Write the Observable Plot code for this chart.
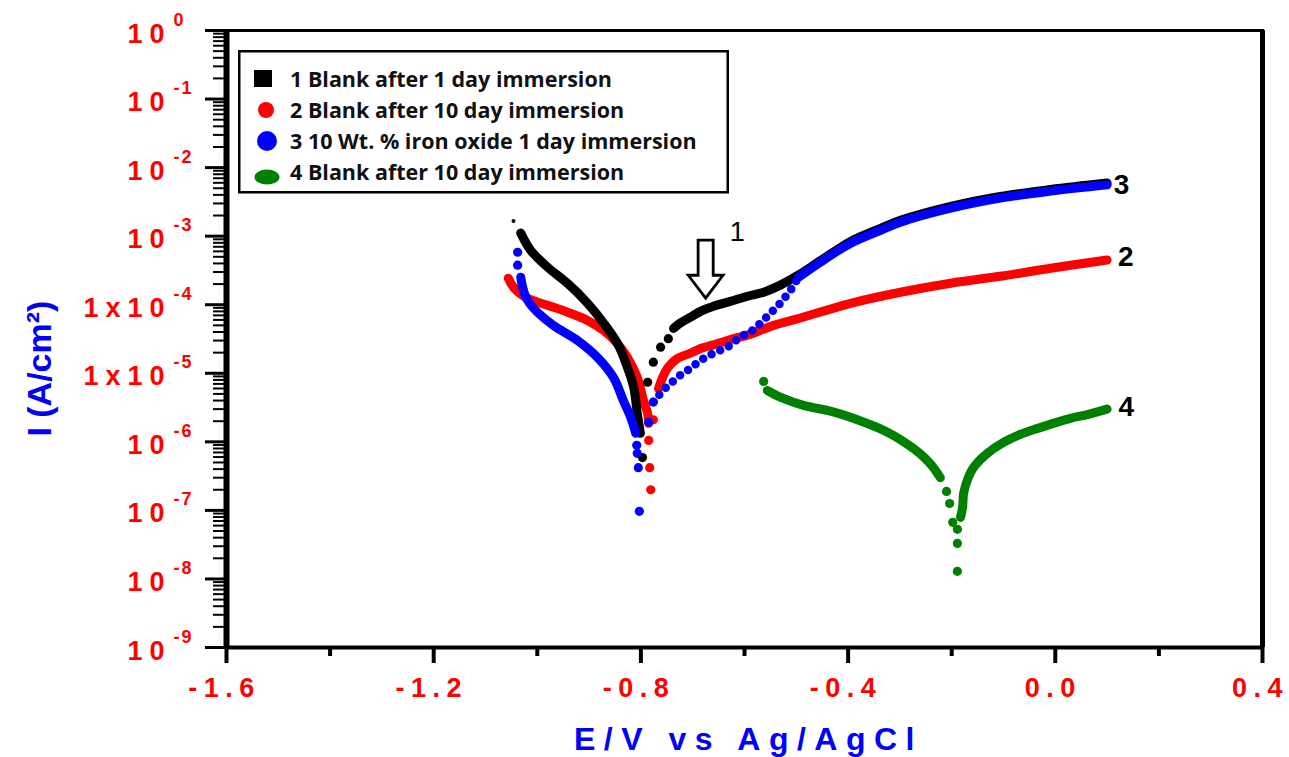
<!DOCTYPE html>
<html><head><meta charset="utf-8">
<script src="https://cdn.jsdelivr.net/npm/d3@7"></script>
<script src="https://cdn.jsdelivr.net/npm/@observablehq/plot@0.6"></script>
<style>
html,body{margin:0;padding:0;background:#fff;}
#wrap{position:relative;width:1289px;height:757px;overflow:hidden;}
#wrap > svg{position:absolute;left:0;top:0;}
</style></head><body><div id="wrap"></div>
<script>
// ---------- axis ticks & labels ----------
const xTicksMajor = [-1.6, -1.2, -0.8, -0.4, 0.0, 0.4];
const xTickLabels = ["-1.6", "-1.2", "-0.8", "-0.4", "0.0", "0.4"];
const xTicksMinor = [-1.4, -1.0, -0.6, -0.2, 0.2];
const yTicksMajor = [1, 1e-1, 1e-2, 1e-3, 1e-4, 1e-5, 1e-6, 1e-7, 1e-8, 1e-9];
const yTickBase = ["10", "10", "10", "10", "1x10", "1x10", "10", "10", "10", "10"];
const yTickExp = ["0", "-1", "-2", "-3", "-4", "-5", "-6", "-7", "-8", "-9"];
const yTicksMinor = [];
for (let d = -9; d < 0; d++) for (let m = 2; m <= 9; m++) yTicksMinor.push(m * Math.pow(10, d));

const xTitle = "E/V vs Ag/AgCl";
const yTitle = "I (A/cm²)";
const yTitleAt = [1.17e-5];

// ---------- series ----------
const seriesIds = ["1", "2", "3", "4"];
const seriesNames = ["1 Blank after 1 day immersion", "2 Blank after 10 day immersion",
  "3 10 Wt. % iron oxide 1 day immersion", "4 Blank after 10 day immersion"];
const seriesColors = ["#000000", "#ff0000", "#0000ff", "#008000"];

// Series 1 (black)
const s1StartE = [-1.046];
const s1StartI = [1.66e-3];
const s1CathE = [-1.032, -1.013, -0.980, -0.942, -0.903, -0.872, -0.845, -0.826, -0.814, -0.807, -0.801];
const s1CathI = [1.11e-3, 6.25e-4, 3.52e-4, 2.06e-4, 1.05e-4, 5.4e-5, 2.7e-5, 1.22e-5, 6.3e-6, 2.6e-6, 1.33e-6];
const s1TipE = [-0.803, -0.797, -0.787, -0.776, -0.762, -0.747];
const s1TipI = [1.6e-6, 5.9e-7, 7.4e-6, 1.45e-5, 2.4e-5, 3.2e-5];
const s1AnE = [-0.737, -0.724, -0.704, -0.685, -0.660, -0.627, -0.594, -0.563, -0.531, -0.498, -0.453, -0.395, -0.337, -0.299, -0.202, -0.106, -0.009, 0.1];
const s1AnI = [4.5e-5, 5.4e-5, 6.6e-5, 8.0e-5, 9.5e-5, 1.12e-4, 1.33e-4, 1.52e-4, 1.93e-4, 2.65e-4, 4.4e-4, 8.4e-4, 1.3e-3, 1.7e-3, 2.72e-3, 3.8e-3, 4.8e-3, 5.95e-3];

// Series 2 (red)
const s2CathE = [-1.056, -1.046, -1.019, -0.980, -0.942, -0.903, -0.872, -0.845, -0.826, -0.807, -0.795, -0.787, -0.785];
const s2CathI = [2.44e-4, 1.80e-4, 1.24e-4, 9.8e-5, 7.8e-5, 5.9e-5, 4.2e-5, 2.7e-5, 1.71e-5, 8.7e-6, 4.0e-6, 2.6e-6, 1.86e-6];
const s2TipE = [-0.776, -0.785, -0.783, -0.781];
const s2TipI = [2.1e-6, 1.05e-6, 4.2e-7, 2.0e-7];
const s2AnE = [-0.766, -0.758, -0.749, -0.729, -0.704, -0.685, -0.660, -0.621, -0.594, -0.544, -0.492, -0.395, -0.299, -0.202, -0.106, -0.009, 0.1];
const s2AnI = [6.0e-6, 8.7e-6, 1.18e-5, 1.66e-5, 1.96e-5, 2.3e-5, 2.6e-5, 3.2e-5, 3.6e-5, 5.0e-5, 6.4e-5, 1.05e-4, 1.52e-4, 2.06e-4, 2.6e-4, 3.4e-4, 4.5e-4];

// Series 3 (blue)
const s3StartE = [-1.038, -1.038];
const s3StartI = [5.83e-4, 3.78e-4];
const s3CathE = [-1.032, -1.029, -1.024, -1.015, -1.000, -0.969, -0.922, -0.884, -0.853, -0.834, -0.820, -0.810];
const s3CathI = [2.52e-4, 1.9e-4, 1.4e-4, 1.05e-4, 7.8e-5, 5.0e-5, 3.0e-5, 1.71e-5, 8.7e-6, 4.0e-6, 2.3e-6, 1.33e-6];
const s3TipE = [-0.808, -0.807, -0.805, -0.803, -0.785, -0.776];
const s3TipI = [8.9e-7, 6.8e-7, 4.2e-7, 9.7e-8, 1.93e-6, 3.8e-6];
const s3DotE = [-0.776, -0.758, -0.743, -0.724, -0.704, -0.685, -0.660, -0.633, -0.608, -0.588, -0.569, -0.550, -0.531, -0.511, -0.496];
const s3DotI = [3.8e-6, 5.6e-6, 7.1e-6, 9.4e-6, 1.18e-5, 1.55e-5, 1.96e-5, 2.4e-5, 3.4e-5, 4.0e-5, 5.4e-5, 7.5e-5, 1.05e-4, 1.63e-4, 2.5e-4];
const s3AnE = [-0.496, -0.453, -0.395, -0.337, -0.299, -0.202, -0.106, -0.009, 0.1];
const s3AnI = [2.5e-4, 4.2e-4, 7.9e-4, 1.22e-3, 1.60e-3, 2.56e-3, 3.59e-3, 4.54e-3, 5.6e-3];

// Series 4 (green)
const s4StartE = [-0.563];
const s4StartI = [7.6e-6];
const s4CathE = [-0.556, -0.531, -0.486, -0.434, -0.390, -0.324, -0.274, -0.251, -0.235, -0.222];
const s4CathI = [5.6e-6, 4.5e-6, 3.4e-6, 2.8e-6, 2.2e-6, 1.38e-6, 8.0e-7, 5.7e-7, 4.2e-7, 3.0e-7];
const s4TipE = [-0.210, -0.204, -0.198, -0.189, -0.189, -0.189];
const s4TipI = [1.89e-7, 1.26e-7, 6.7e-8, 5.3e-8, 3.3e-8, 1.29e-8];
const s4AnE = [-0.183, -0.179, -0.177, -0.168, -0.158, -0.131, -0.100, -0.067, -0.034, 0.029, 0.062, 0.1];
const s4AnI = [7.9e-8, 1.11e-7, 1.77e-7, 3.0e-7, 4.2e-7, 6.8e-7, 9.8e-7, 1.29e-6, 1.57e-6, 2.2e-6, 2.5e-6, 3.0e-6];

// ---------- annotations ----------
const curveLabelText = ["2", "3", "4"];
const curveLabelE = [0.136, 0.128, 0.137];
const curveLabelI = [4.9e-4, 5.6e-3, 3.2e-6];
const arrowLabelText = ["1"];
const arrowLabelE = [-0.614];
const arrowLabelI = [1.14e-3];
const arrowE = [-0.675];
const arrowI = [3.3e-4];

// hollow down-arrow symbol (shape in units of the dot radius)
const downArrow = {
  draw(context, size) {
    const r = Math.sqrt(size / Math.PI);
    const sw = 0.26 * r, hw = 0.6 * r, neck = 0.21 * r;
    context.moveTo(-sw, -r);
    context.lineTo(sw, -r);
    context.lineTo(sw, neck);
    context.lineTo(hw, neck);
    context.lineTo(0, r);
    context.lineTo(-hw, neck);
    context.lineTo(-sw, neck);
    context.closePath();
  }
};

// ---------- build tables ----------
const rows = (series, part, E, I) => E.map((e, i) => ({series, part: series + part, E: e, I: I[i]}));
const solid = [
  ...rows("1", "c", s1CathE, s1CathI), ...rows("1", "a", s1AnE, s1AnI),
  ...rows("2", "c", s2CathE, s2CathI), ...rows("2", "a", s2AnE, s2AnI),
  ...rows("3", "c", s3CathE, s3CathI), ...rows("3", "a", s3AnE, s3AnI),
  ...rows("4", "c", s4CathE, s4CathI), ...rows("4", "a", s4AnE, s4AnI)
];
const dotted = rows("3", "d", s3DotE, s3DotI);
const dots = [
  ...rows("1", "t", s1TipE, s1TipI), ...rows("2", "t", s2TipE, s2TipI),
  ...rows("3", "s", s3StartE, s3StartI), ...rows("3", "t", s3TipE, s3TipI),
  ...rows("4", "s", s4StartE, s4StartI), ...rows("4", "t", s4TipE, s4TipI)
];
const small = rows("1", "s", s1StartE, s1StartI);
const order = ["2", "1", "3", "4"];
const font = "Liberation Sans, Arial, sans-serif";

const seriesMarks = order.flatMap(s => [
  Plot.line(solid.filter(d => d.series === s), {x: "E", y: "I", z: "part", stroke: "series", strokeWidth: 9, strokeLinecap: "round", strokeLinejoin: "round", curve: "catmull-rom"}),
  Plot.line(dotted.filter(d => d.series === s), {x: "E", y: "I", z: "part", stroke: "series", strokeWidth: 8.5, strokeLinecap: "round", strokeDasharray: "0 9.5"}),
  Plot.dot(dots.filter(d => d.series === s), {x: "E", y: "I", r: 4.6, fill: "series", stroke: null}),
  Plot.dot(small.filter(d => d.series === s), {x: "E", y: "I", r: 2, fill: "series"})
]);

const chart = Plot.plot({
  width: 1289, height: 757,
  marginLeft: 226, marginRight: 27, marginTop: 30, marginBottom: 110,
  x: {domain: [-1.6, 0.4]},
  y: {type: "log", domain: [1e-9, 1]},
  color: {domain: seriesIds, range: seriesColors},
  style: {background: "transparent", overflow: "visible", fontFamily: font},
  marks: [
    ...seriesMarks,
    Plot.frame({stroke: "black", strokeWidth: 3}),
    Plot.ruleX([-1.6], {stroke: "black", strokeWidth: 6}),
    Plot.ruleX([0.4], {stroke: "black", strokeWidth: 5}),
    Plot.ruleY([1e-9], {stroke: "black", strokeWidth: 4}),
    Plot.axisY(yTicksMinor, {tickSize: 13, strokeWidth: 2, tickFormat: () => "", label: null}),
    Plot.axisY(yTicksMajor, {tickSize: 21, strokeWidth: 3, tickFormat: () => "", label: null}),
    Plot.axisX(xTicksMinor, {tickSize: 9, strokeWidth: 4, tickFormat: () => "", label: null}),
    Plot.axisX(xTicksMajor, {tickSize: 16, strokeWidth: 4, tickFormat: () => "", label: null}),
    Plot.text(xTicksMajor, {x: d => d, text: (d, i) => xTickLabels[i], frameAnchor: "bottom", textAnchor: "middle", lineAnchor: "bottom", dy: 49, dx: -2,
      fontSize: 27, fontWeight: "bold", fill: "#ff0000", fontFamily: font, ariaDescription: "xtl"}),
    Plot.text(yTicksMajor, {y: d => d, text: (d, i) => yTickBase[i], frameAnchor: "left", textAnchor: "end", lineAnchor: "bottom", dx: -55, dy: 12,
      fontSize: 27, fontWeight: "bold", fill: "#ff0000", fontFamily: font, ariaDescription: "ytl"}),
    Plot.text(yTicksMajor, {y: d => d, text: (d, i) => yTickExp[i], frameAnchor: "left", textAnchor: "start", lineAnchor: "bottom", dx: -53, dy: -5,
      fontSize: 18, fontWeight: "bold", fill: "#ff0000", fontFamily: font, ariaDescription: "yte"}),
    Plot.text([xTitle], {frameAnchor: "bottom", textAnchor: "middle", lineAnchor: "bottom", dy: 102, dx: 4, fontSize: 32, fontWeight: "bold", fill: "#0000ff", fontFamily: font, ariaDescription: "xtitle"}),
    Plot.text([yTitle], {y: (d, i) => yTitleAt[i], frameAnchor: "left", textAnchor: "middle", lineAnchor: "middle", rotate: -90, dx: -186, fontSize: 34, fontWeight: "bold", fill: "#0000ff", fontFamily: font}),
    Plot.text(curveLabelText, {x: (d, i) => curveLabelE[i], y: (d, i) => curveLabelI[i], text: d => d,
      fontSize: 28, fontWeight: "bold", fill: "black", fontFamily: font}),
    Plot.text(arrowLabelText, {x: (d, i) => arrowLabelE[i], y: (d, i) => arrowLabelI[i], text: d => d,
      fontSize: 27, fill: "black", fontFamily: font}),
    Plot.dot(arrowE, {x: d => d, y: (d, i) => arrowI[i], symbol: downArrow, r: 29, fill: "white", stroke: "black", strokeWidth: 2.8, strokeLinejoin: "miter"})
  ]
});
document.getElementById("wrap").appendChild(chart);
const spacing = {xtl: "6.5px", ytl: "7px", yte: "2px", xtitle: "8.5px"};
d3.select(chart).selectAll("g").each(function () {
  const k = this.getAttribute("aria-description");
  if (k && spacing[k]) d3.select(this).selectAll("text").style("letter-spacing", spacing[k]);
});

// ---------- legend ----------
const lg = d3.select("#wrap").append("svg").attr("width", 1289).attr("height", 757);
lg.append("rect").attr("x", 239.25).attr("y", 51.25).attr("width", 488.5).attr("height", 141)
  .attr("fill", "white").attr("stroke", "black").attr("stroke-width", 2.5);
const baselines = [87, 118, 149, 180];
const g = lg.append("g");
g.append("rect").attr("x", 254).attr("y", 70).attr("width", 18).attr("height", 17).attr("fill", seriesColors[0]);
g.append("circle").attr("cx", 266).attr("cy", 110).attr("r", 8).attr("fill", seriesColors[1]);
g.append("circle").attr("cx", 267).attr("cy", 141).attr("r", 10).attr("fill", seriesColors[2]);
g.append("ellipse").attr("cx", 267).attr("cy", 177).attr("rx", 12.5).attr("ry", 7.5).attr("fill", seriesColors[3]);
seriesNames.forEach((name, i) => {
  g.append("text").attr("x", 290).attr("y", baselines[i]).text(name)
    .attr("font-family", "Open Sans, sans-serif").attr("font-weight", 700).attr("font-size", 21.5).attr("fill", "#111");
});
</script></body></html>
